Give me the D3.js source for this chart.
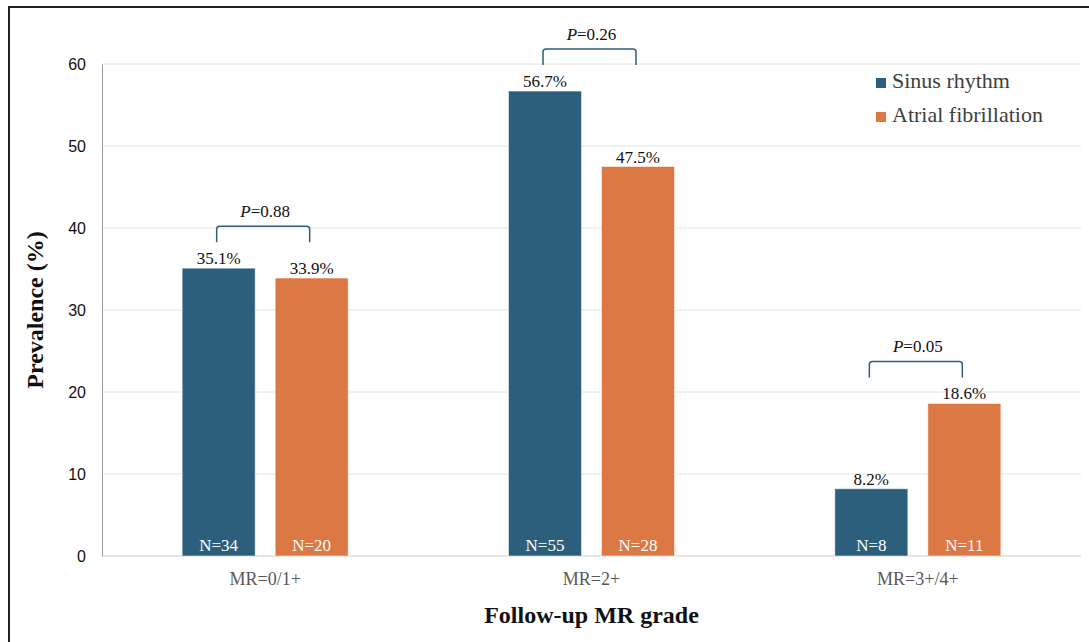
<!DOCTYPE html>
<html>
<head>
<meta charset="utf-8">
<script src="https://cdn.jsdelivr.net/npm/d3@7"></script>
<style>
  body { margin: 0; background: #fff; }
  svg { display: block; }
</style>
</head>
<body>
<svg id="chart"></svg>
<script>
var categories = ["MR=0/1+", "MR=2+", "MR=3+/4+"];
var seriesNames = ["Sinus rhythm", "Atrial fibrillation"];
var sinusValues = [35.1, 56.7, 8.2];
var afibValues = [33.9, 47.5, 18.6];
var sinusN = [34, 55, 8];
var afibN = [20, 28, 11];
var pValues = ["0.88", "0.26", "0.05"];
var yTicks = [0, 10, 20, 30, 40, 50, 60];

var colors = ["#2c5f7c", "#dc7843"];
var serif = "Liberation Serif, Times New Roman, serif";
var width = 1089, height = 642;
var margin = {left: 102, right: 8, top: 64, bottom: 86};

var svg = d3.select("#chart")
  .attr("width", width)
  .attr("height", height);

// outer frame (runs off the right / bottom edges)
svg.append("rect")
  .attr("x", 9).attr("y", 7)
  .attr("width", 1200).attr("height", 800)
  .attr("fill", "none")
  .attr("stroke", "#222")
  .attr("stroke-width", 2);

var x = d3.scaleBand()
  .domain(categories)
  .range([margin.left, width - margin.right]);

var y = d3.scaleLinear()
  .domain([0, 60])
  .range([height - margin.bottom, margin.top]);

// gridlines
svg.append("g")
  .selectAll("line")
  .data(yTicks.slice(1))
  .enter()
  .append("line")
  .attr("x1", margin.left).attr("x2", width - margin.right)
  .attr("y1", function(d){ return y(d); })
  .attr("y2", function(d){ return y(d); })
  .attr("stroke", "#e4e4e4")
  .attr("stroke-width", 1);

// baseline
svg.append("line")
  .attr("x1", margin.left).attr("x2", width - margin.right)
  .attr("y1", y(0)).attr("y2", y(0))
  .attr("stroke", "#dcdcdc")
  .attr("stroke-width", 1.5);

// y axis
var yAxis = svg.append("g")
  .attr("transform", "translate(" + margin.left + ",0)")
  .call(d3.axisLeft(y).tickValues(yTicks).tickSize(0).tickPadding(16));
yAxis.select(".domain").attr("stroke", "#999");
yAxis.selectAll("text")
  .attr("font-family", "Liberation Sans, Arial, sans-serif")
  .attr("font-size", 16)
  .attr("fill", "#111");

// x axis labels
var xAxis = svg.append("g")
  .attr("transform", "translate(0," + y(0) + ")")
  .call(d3.axisBottom(x).tickSize(0));
xAxis.select(".domain").remove();
xAxis.selectAll("text")
  .attr("y", 29)
  .attr("dy", 0)
  .attr("font-family", serif)
  .attr("font-size", 18)
  .attr("fill", "#595959");

var rows = categories.map(function(c, i){
  return {cat: c, vals: [sinusValues[i], afibValues[i]], ns: [sinusN[i], afibN[i]], p: pValues[i]};
});

var barW = 73, gap = 20;
function barX(cat, k){
  var c = x(cat) + x.bandwidth() / 2;
  return k === 0 ? c - gap / 2 - barW : c + gap / 2;
}

var bars = [];
rows.forEach(function(r){
  r.vals.forEach(function(v, k){
    bars.push({cat: r.cat, k: k, v: v, n: r.ns[k]});
  });
});

svg.append("g")
  .selectAll("rect")
  .data(bars)
  .enter()
  .append("rect")
  .attr("x", function(d){ return barX(d.cat, d.k); })
  .attr("y", function(d){ return y(d.v); })
  .attr("width", barW)
  .attr("height", function(d){ return y(0) - y(d.v); })
  .attr("fill", function(d){ return colors[d.k]; })
  .attr("stroke", "rgba(255,255,255,0.5)")
  .attr("stroke-width", 1);

// value labels
svg.append("g")
  .selectAll("text")
  .data(bars)
  .enter()
  .append("text")
  .attr("x", function(d){ return barX(d.cat, d.k) + barW / 2; })
  .attr("y", function(d){ return y(d.v) - 4; })
  .attr("text-anchor", "middle")
  .attr("font-family", serif)
  .attr("font-size", 17)
  .attr("fill", "#111")
  .text(function(d){ return d.v.toFixed(1) + "%"; });

// N labels
svg.append("g")
  .selectAll("text")
  .data(bars)
  .enter()
  .append("text")
  .attr("x", function(d){ return barX(d.cat, d.k) + barW / 2; })
  .attr("y", y(0) - 5)
  .attr("text-anchor", "middle")
  .attr("font-family", serif)
  .attr("font-size", 17)
  .attr("fill", "#fff")
  .text(function(d){ return "N=" + d.n; });

// significance brackets
var br = svg.append("g")
  .selectAll("g")
  .data(rows)
  .enter()
  .append("g");

br.append("path")
  .attr("d", function(d){
    var x1 = barX(d.cat, 0) + barW / 2 - 2;
    var x2 = barX(d.cat, 1) + barW / 2 - 2;
    var yb = y(d3.max(d.vals)) - 26;
    var yt = yb - 16;
    return "M" + x1 + "," + yb + "V" + (yt + 3) + "Q" + x1 + "," + yt + " " + (x1 + 3) + "," + yt +
      "H" + (x2 - 3) + "Q" + x2 + "," + yt + " " + x2 + "," + (yt + 3) + "V" + yb;
  })
  .attr("fill", "none")
  .attr("stroke", "#2c5f7c")
  .attr("stroke-width", 1.5);

var pt = br.append("text")
  .attr("x", function(d){ return x(d.cat) + x.bandwidth() / 2; })
  .attr("y", function(d){ return y(d3.max(d.vals)) - 26 - 16 - 9; })
  .attr("text-anchor", "middle")
  .attr("font-family", serif)
  .attr("font-size", 17)
  .attr("fill", "#111");
pt.append("tspan").attr("font-style", "italic").text("P");
pt.append("tspan").text(function(d){ return "=" + d.p; });

// legend
var lg = svg.append("g")
  .selectAll("g")
  .data(seriesNames)
  .enter()
  .append("g")
  .attr("transform", function(d, i){ return "translate(876," + (88 + i * 34) + ")"; });
lg.append("rect")
  .attr("x", 0).attr("y", -10)
  .attr("width", 10).attr("height", 10)
  .attr("fill", function(d, i){ return colors[i]; });
lg.append("text")
  .attr("x", 16).attr("y", 0)
  .attr("font-family", serif)
  .attr("font-size", 22)
  .attr("fill", "#404040")
  .text(function(d){ return d; });

// axis titles
svg.append("text")
  .attr("transform", "translate(43," + (y(30)) + ") rotate(-90)")
  .attr("text-anchor", "middle")
  .attr("font-family", serif)
  .attr("font-weight", "bold")
  .attr("font-size", 24)
  .attr("fill", "#111")
  .text("Prevalence (%)");

svg.append("text")
  .attr("x", x("MR=2+") + x.bandwidth() / 2)
  .attr("y", 623)
  .attr("text-anchor", "middle")
  .attr("font-family", serif)
  .attr("font-weight", "bold")
  .attr("font-size", 24)
  .attr("fill", "#111")
  .text("Follow-up MR grade");
</script>
</body>
</html>
